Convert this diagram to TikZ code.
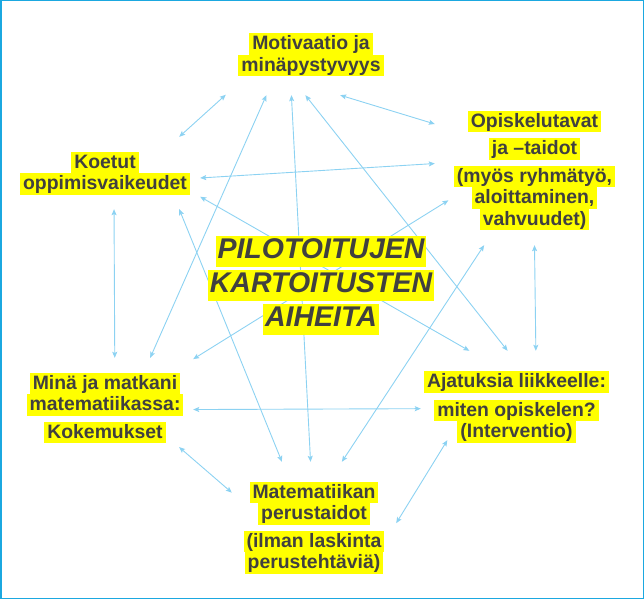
\documentclass[tikz,border=0pt]{standalone}
\usepackage{fontspec}
\setmainfont{Liberation Sans}
\usetikzlibrary{arrows.meta}
\definecolor{hlyellow}{RGB}{255,255,0}
\definecolor{txtgray}{RGB}{64,64,64}
\definecolor{linkblue}{RGB}{140,210,242}
\definecolor{framblue}{RGB}{27,168,224}
\newcommand{\hl}[1]{{\setlength{\fboxsep}{0pt}\colorbox{hlyellow}{\hspace{3pt}\rule[-5pt]{0pt}{21.5pt}#1\hspace{3pt}}}}
\newcommand{\hlbig}[1]{{\setlength{\fboxsep}{0pt}\colorbox{hlyellow}{\hspace{2pt}\rule[-8pt]{0pt}{31pt}#1\hspace{2pt}}}}

\begin{document}
\begin{tikzpicture}[x=1pt, y=-1pt]
			\tikzset{edge/.style={<->, > = {Stealth[length=6pt,width=5pt,inset=1.2pt]}, draw=linkblue, line width=0.9pt}}
			\tikzset{topic/.style={align=center, inner sep=0pt, text=txtgray, font=\fontsize{19.4}{21.5}\selectfont\bfseries}}
			\useasboundingbox (0,0) rectangle (644,599);
			\draw[framblue, line width=1.5pt] (0.75,0.75) rectangle (643.25,598.25);
			\node[topic, minimum width=170pt, minimum height=80pt](mot) at (311,55){\hl{Motivaatio ja}\\\hl{minäpystyvyys}};
			\node[topic, minimum width=190pt, minimum height=72pt](koe) at (105,173){\hl{Koetut}\\\hl{oppimisvaikeudet}};
			\node[topic, minimum width=199pt, minimum height=149pt](opi) at (534.5,170.5){\hl{Opiskelutavat}\\[6pt]\hl{ja –taidot}\\[6pt]\hl{(myös ryhmätyö,}\\\hl{aloittaminen,}\\\hl{vahvuudet)}};
			\node[topic, minimum width=176pt, minimum height=100pt](min) at (105,408){\hl{Minä ja matkani}\\\hl{matematiikassa:}\\[6pt]\hl{Kokemukset}};
			\node[topic, minimum width=191pt, minimum height=112pt](aja) at (516.5,407){\hl{Ajatuksia liikkeelle:}\\[7pt]\hl{miten opiskelen?}\\\hl{(Interventio)}};
			\node[topic, minimum width=164pt, minimum height=131pt](mat) at (314,527.5){\hl{Matematiikan}\\\hl{perustaidot}\\[6pt]\hl{(ilman laskinta}\\\hl{perustehtäviä)}};
			\draw[edge] (mot.205) -- (koe.26.6);
			\draw[edge] (mot.222.3) -- (min.48);
			\draw[edge] (mot.244.6) -- (mat.93.5);
			\draw[edge] (mot.262.9) -- (aja.99.6);
			\draw[edge] (mot.306.9) -- (opi.155.9);
			\draw[edge] (koe.-3.6) -- (opi.176.3);
			\draw[edge] (koe.-14.7) -- (aja.130.9);
			\draw[edge] (koe.-26.6) -- (mat.116.7);
			\draw[edge] (koe.-76) -- (min.79.8);
			\draw[edge, shorten <=-16pt] (opi.201) -- (min.29.6);
			\draw[edge] (opi.236.4) -- (mat.67.6);
			\draw[edge] (opi.270) -- (aja.71.7);
			\draw[edge] (min.-1.3) -- (aja.181.8);
			\draw[edge, shorten <=-17pt] (min.-30) -- (mat.157.2);
			\draw[edge, shorten >=-27pt] (mat.3.8) -- (aja.214.4);
			\node[align=center, inner sep=0pt, text=txtgray, font=\fontsize{28.5}{34}\selectfont\bfseries\itshape](aiheet) at (321,285){\hlbig{PILOTOITUJEN}\\\hlbig{KARTOITUSTEN}\\\hlbig{AIHEITA}};
		\end{tikzpicture}
\end{document}
